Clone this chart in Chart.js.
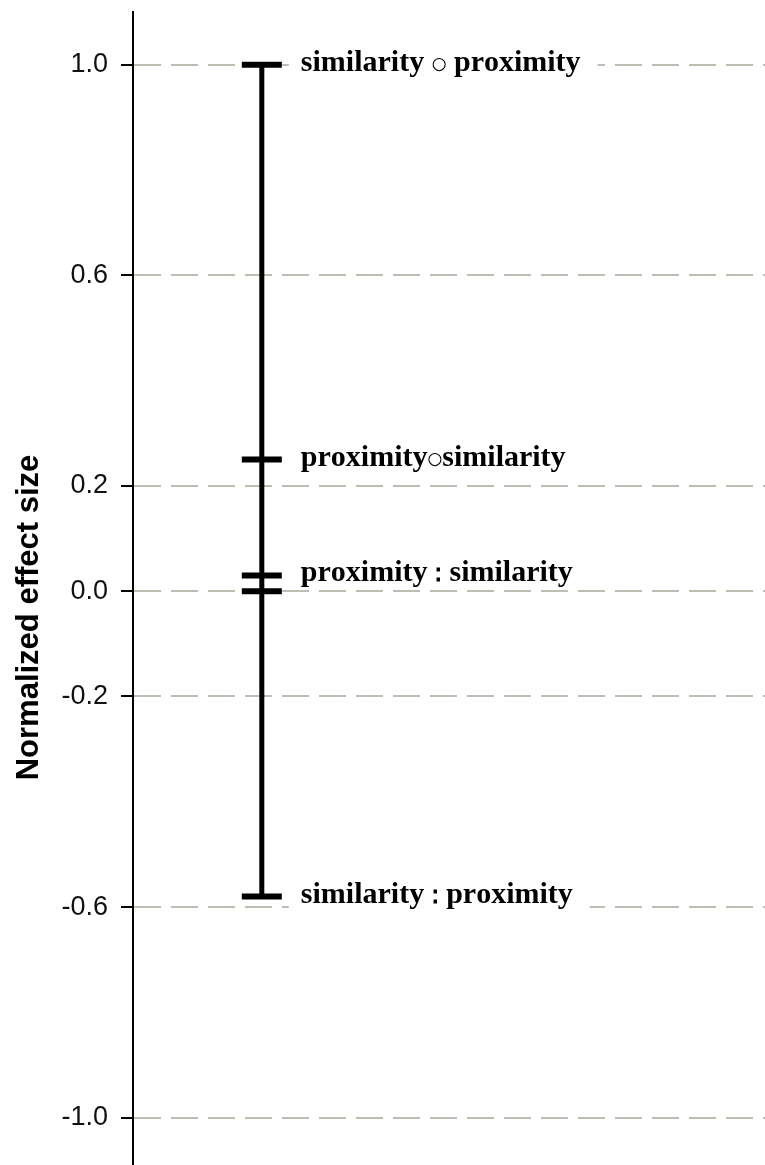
<!DOCTYPE html>
<html>
<head>
<meta charset="utf-8">
<script src="https://cdn.jsdelivr.net/npm/chart.js@4/dist/chart.umd.min.js"></script>
<style>
  body { margin: 0; background: #fff; }
  #wrap { width: 765px; height: 1165px; overflow: hidden; }
</style>
</head>
<body>
<div id="wrap"><canvas id="effectChart" width="765" height="1230"></canvas></div>
<script>
// ticks on the y axis
const tickValues = [1.0, 0.6, 0.2, 0.0, -0.2, -0.6, -1.0];

// normalized effect size of each ordering (one cap per value)
const capValues = [1.0, 0.25, 0.03, 0.0, -0.58];

// annotated orderings and the value each label sits beside
const labelValues = [1.0, 0.25, 0.03, -0.58];
const labelTexts = [
    'similarity ○ proximity',
    'proximity○similarity',
    'proximity ∶ similarity',
    'similarity ∶ proximity'
];

const SERIF = 'bold 30px "Liberation Serif", "Times New Roman", serif';
// operator glyphs get their own font and a small vertical shift
const glyphFonts = {
    '○': { font: '17px "DejaVu Sans"', dy: -2 },
    '∶': { font: 'bold 25px "DejaVu Serif"', dy: 2 }
};

const labelPlugin = {
    id: 'effectLabels',
    afterDatasetsDraw(chart) {
        const ctx = chart.ctx;
        const left = chart.scales.x.getPixelForValue(0) + 39;

        ctx.save();
        ctx.textAlign = 'left';
        ctx.textBaseline = 'alphabetic';

        labelTexts.forEach((text, i) => {
            const base = chart.scales.y.getPixelForValue(labelValues[i]) + 6;
            const chars = [...text];

            let width = 0;
            chars.forEach(ch => {
                ctx.font = glyphFonts[ch] ? glyphFonts[ch].font : SERIF;
                width += ctx.measureText(ch).width;
            });

            // white box hides the dashed grid behind the text
            ctx.fillStyle = '#ffffff';
            ctx.fillRect(left - 12, base - 26, width + 29, 34);

            ctx.fillStyle = '#000000';
            let x = left;
            chars.forEach(ch => {
                const g = glyphFonts[ch];
                ctx.font = g ? g.font : SERIF;
                ctx.fillText(ch, x, base + (g ? g.dy : 0));
                x += ctx.measureText(ch).width;
            });
        });
        ctx.restore();
    }
};

const ctx = document.getElementById('effectChart').getContext('2d');

new Chart(ctx, {
    type: 'scatter',
    data: {
        datasets: [
            {
                // vertical span from the lowest to the highest value
                data: [
                    { x: 0, y: Math.max(...capValues) },
                    { x: 0, y: Math.min(...capValues) }
                ],
                showLine: true,
                borderColor: '#000000',
                borderWidth: 5,
                pointRadius: 0,
                order: 2
            },
            {
                data: capValues.map(v => ({ x: 0, y: v })),
                pointStyle: 'line',
                pointRadius: 20,
                pointHoverRadius: 20,
                borderWidth: 6,
                borderColor: '#000000',
                backgroundColor: '#000000',
                order: 1
            }
        ]
    },
    options: {
        responsive: false,
        animation: false,
        events: [],
        layout: {
            autoPadding: false,
            padding: { top: 12, right: 0, bottom: 7, left: 0 }
        },
        plugins: {
            legend: { display: false },
            tooltip: { enabled: false }
        },
        scales: {
            x: {
                type: 'linear',
                display: false,
                min: -0.256,
                max: 1
            },
            y: {
                type: 'linear',
                min: -1.2,
                max: 1.1,
                afterBuildTicks: (scale) => {
                    scale.ticks = tickValues.map(v => ({ value: v }));
                },
                afterFit: (scale) => {
                    scale.width = 133;
                    // no extra room for the end labels, the ticks sit well inside
                    scale.paddingTop = 0;
                    scale.paddingBottom = 0;
                },
                ticks: {
                    color: '#111111',
                    padding: 13,
                    font: { family: '"Liberation Sans", Arial, sans-serif', size: 27 },
                    callback: (value) => Number(value).toFixed(1)
                },
                grid: {
                    color: '#bdbdb2',
                    lineWidth: 2,
                    tickColor: '#000000',
                    tickWidth: 2,
                    tickLength: 12
                },
                border: {
                    color: '#000000',
                    width: 2,
                    dash: [27, 10]
                },
                title: {
                    display: true,
                    text: 'Normalized effect size',
                    color: '#000000',
                    padding: { top: 11, bottom: 0 },
                    font: { family: '"Liberation Sans", Arial, sans-serif', size: 31, weight: 'bold' }
                }
            }
        }
    },
    plugins: [labelPlugin]
});
</script>
</body>
</html>
